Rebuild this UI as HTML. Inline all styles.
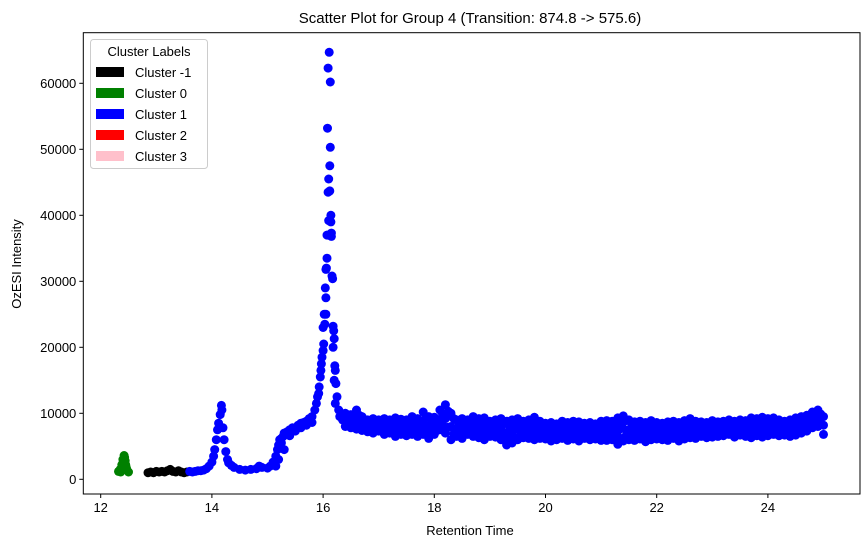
<!DOCTYPE html>
<html><head><meta charset="utf-8"><style>
body{margin:0;background:#fff;}
svg{display:block;font-family:"Liberation Sans","DejaVu Sans",sans-serif;}
</style></head><body>
<svg id="chart" width="868" height="547" viewBox="0 0 868 547">
<rect x="0" y="0" width="868" height="547" fill="#fff"/>
<text x="470" y="23" font-size="15" text-anchor="middle">Scatter Plot for Group 4 (Transition: 874.8 -&gt; 575.6)</text>
<g id="marks"></g>
<g id="axes"></g>
<text x="470" y="535" font-size="13" text-anchor="middle">Retention Time</text>
<text x="21" y="264" font-size="13" text-anchor="middle" transform="rotate(-90 21 264)">OzESI Intensity</text>
<g>
<rect x="90.5" y="39.5" width="117" height="129" rx="3" fill="#fff" fill-opacity="0.8" stroke="#ccc"/>
<text x="149" y="56" font-size="13" text-anchor="middle">Cluster Labels</text>
<g id="legend-entries"></g>
</g>
</svg>
<script>
const xTicks=[12,14,16,18,20,22,24];
const yTicks=[0,10000,20000,30000,40000,50000,60000];
const legendLabels=["Cluster -1","Cluster 0","Cluster 1","Cluster 2","Cluster 3"];
const legendColors=["#000000","#008000","#0000ff","#ff0000","#ffc0cb"];
// cluster 0 (green)
const c0T=[12.32,12.35,12.38,12.4,12.42,12.43,12.44,12.45,12.47,12.5,12.36,12.41,12.46];
const c0V=[1200,1500,2200,3000,3600,3300,2800,2200,1500,1100,1100,2600,1800];
// cluster -1 (black)
const cmT=[12.85,12.9,12.95,13.0,13.05,13.1,13.15,13.2,13.25,13.3,13.35,13.4,13.45,13.5,13.55];
const cmV=[1000,1100,1000,1200,1100,1200,1100,1300,1500,1200,1100,1300,1100,1000,1100];
// cluster 1 (blue) rising part and peaks
const c1T=[13.6,13.65,13.7,13.75,13.8,13.85,13.9,13.95,14.0,14.03,14.05,14.08,14.1,14.12,14.15,14.17,14.18,14.2,14.22,14.25,14.28,14.3,14.35,14.4,14.5,14.6,14.7,14.8,14.85,14.9,15.0,15.05,15.1,15.15,15.18,15.2,15.22,15.25,15.28,15.3,15.35,15.4,15.45,15.5,15.55,15.6,15.65,15.7,15.75,15.8,15.85,15.88,15.9,15.93,15.95,15.97,16.0,16.01,16.03,16.05,16.06,16.07,16.08,16.09,16.1,16.11,16.12,16.13,16.14,16.15,16.16,16.17,16.18,16.19,16.2,16.21,16.22,16.23,16.25,16.28,16.3,16.35,15.2,15.3,15.25,15.15,16.0,16.05,16.1,
16.09,16.13,16.08,16.12,16.07,16.14,16.05,16.04,16.15,16.02,16.18,15.98,15.96,15.92,16.2,16.22,15.6,15.7,15.8,15.5,15.4];
const c1V=[1200,1100,1200,1300,1300,1400,1600,2000,2600,3500,4500,6000,7500,8500,9800,11200,10500,7800,6000,4200,3000,2500,2100,1800,1500,1400,1500,1600,2000,1800,1700,2000,2600,3500,4500,5200,6000,6200,6500,7000,7200,7500,7800,7800,8200,8500,8600,8800,9200,9500,10500,11500,12500,14000,15500,17500,19500,20500,23500,27500,32000,33500,37000,43500,45500,64700,47500,50300,40000,37300,30800,30400,23200,22500,21300,17200,16500,14500,12500,10500,9500,9000,3000,4500,5500,2000,23000,25000,39200,
62300,60200,53200,43700,37000,39000,31800,29000,36800,25000,20000,18500,16500,13000,15000,11500,7800,8200,8600,7300,6600];
// flat region 16.4 .. 25.0, step 0.1
const flatStart=16.4;
const flatHi=[10000,9800,10500,9500,9000,9200,9000,
9200,9000,9300,9100,9000,9500,9200,10200,9500,9400,
10500,11300,10000,9000,9200,9000,9500,9200,9300,8800,
9000,9200,8800,9000,9200,8800,9000,9400,8800,8500,
8600,8400,8800,8600,8800,8700,8500,8600,8400,8800,
8900,8800,9300,9600,9000,8700,8800,8600,8900,8600,
8500,8700,8800,8600,8900,9200,8800,8700,8600,8900,
8700,8800,9000,8800,9000,8900,9300,9200,9400,9200,
9300,9000,8800,9000,9300,9500,9700,10200,10500,9500];
const flatMid=[9000,8800,9000,8400,8100,8100,8100,
8000,8000,7900,8000,7800,8100,7800,8500,7900,8100,
9000,9200,8000,7700,7700,7900,8000,7700,7600,7600,
7700,7600,7000,7200,7600,7500,7600,7700,7500,7300,
7200,7200,7500,7200,7400,7200,7300,7300,7200,7300,
7400,7400,7300,7700,7500,7300,7400,7100,7400,7300,
7200,7300,7500,7200,7500,7700,7500,7600,7400,7600,
7600,7700,7900,7600,7800,7700,7800,7900,7900,7900,
8000,7800,7700,7700,8000,8200,8500,9000,9200,8200];
const flatLo=[8000,7800,7600,7400,7200,7000,7300,
6800,7000,6500,6800,6600,6800,6500,6800,6200,6800,
7500,7000,6000,6500,6200,6800,6500,6300,6000,6500,
6400,6000,5200,5500,6000,6300,6200,6000,6200,6100,
5800,6000,6200,5900,6100,5800,6200,6000,6100,5900,
5900,6000,5300,5800,6000,5900,6100,5700,6000,6100,
6000,5900,6200,5800,6100,6300,6200,6500,6300,6400,
6500,6600,6800,6400,6700,6500,6300,6600,6400,6600,
6800,6600,6700,6500,6700,7000,7300,7800,8000,6800];
// half-step samples 16.45 .. 24.95
const halfStart=16.45;
const halfUpper=[9500,9300,9700,9000,8600,8700,8600,
8600,8500,8700,8600,8400,8900,8600,9400,8800,8800,
9800,10300,9200,8400,8500,8500,8800,8500,8600,8200,
8400,8500,8000,8200,8500,8100,8400,8700,8200,7900,
8000,7800,8200,7900,8200,8000,7900,8000,7800,8100,
8200,8200,8500,8900,8400,8100,8200,8000,8300,8000,
7900,8100,8200,8000,8300,8600,8200,8200,8000,8300,
8200,8300,8500,8200,8500,8400,8700,8600,8800,8600,
8700,8500,8300,8400,8700,8900,9200,9700,9900];
const halfLower=[8500,8300,8200,7900,7600,7500,7700,
7300,7400,7100,7300,7100,7400,7100,7600,6900,7400,
8200,7900,6900,7000,6900,7300,7100,6900,6700,7000,
7000,6700,6000,6300,6700,6900,6800,6700,6800,6600,
6400,6500,6800,6500,6700,6400,6700,6600,6600,6500,
6600,6600,6200,6600,6700,6500,6700,6300,6600,6600,
6500,6500,6800,6400,6700,6900,6800,7000,6800,6900,
7000,7100,7300,6900,7200,7000,6900,7200,7000,7100,
7300,7100,7200,7000,7200,7500,7800,8300,8500];

const L=83.3,R=860,T=32.7,B=494;
function xs(t){return 100.7+(t-12)*55.6;}
function ys(v){return 479.3-v*0.0066;}
const NS="http://www.w3.org/2000/svg";
const marks=document.getElementById('marks');
function dot(t,v,c,name){
  const e=document.createElementNS(NS,'circle');
  e.setAttribute('cx',xs(t).toFixed(1));e.setAttribute('cy',ys(v).toFixed(1));
  e.setAttribute('r',4.5);e.setAttribute('fill',c);
  
  
  marks.appendChild(e);
}
c0T.forEach((t,i)=>dot(t,c0V[i],'#008000','cluster-0-point'));
cmT.forEach((t,i)=>dot(t,cmV[i],'#000000','cluster-neg1-point'));
c1T.forEach((t,i)=>dot(t,c1V[i],'#0000ff','cluster-1-point'));
[flatHi,flatMid,flatLo].forEach(arr=>arr.forEach((v,i)=>dot(flatStart+i*0.1,v,'#0000ff','cluster-1-point')));
[halfUpper,halfLower].forEach(arr=>arr.forEach((v,i)=>dot(halfStart+i*0.1,v,'#0000ff','cluster-1-point')));

const ax=document.getElementById('axes');
function add(tag,attrs,name,txt){
  const e=document.createElementNS(NS,tag);
  for(const k in attrs)e.setAttribute(k,attrs[k]);
  
  
  if(txt!==undefined)e.textContent=txt;
  ax.appendChild(e);return e;
}
add('rect',{x:L,y:T,width:R-L,height:B-T,fill:'none',stroke:'#000','stroke-width':1},'plot-frame');
xTicks.forEach(t=>{
  const x=xs(t);
  add('line',{x1:x,x2:x,y1:B,y2:B+4,stroke:'#000'},'x-tick');
  add('text',{x:x,y:B+18,'font-size':13,'text-anchor':'middle'},'x-tick-label',String(t));
});
yTicks.forEach(v=>{
  const y=ys(v);
  add('line',{x1:L-4,x2:L,y1:y,y2:y,stroke:'#000'},'y-tick');
  add('text',{x:L-7,y:y+4.5,'font-size':13,'text-anchor':'end'},'y-tick-label',String(v));
});
const lg=document.getElementById('legend-entries');
legendLabels.forEach((lab,i)=>{
  const y=67+i*21;
  const r=document.createElementNS(NS,'rect');
  r.setAttribute('x',96);r.setAttribute('y',y);r.setAttribute('width',28);r.setAttribute('height',10);r.setAttribute('fill',legendColors[i]);
  
  
  lg.appendChild(r);
  const tx=document.createElementNS(NS,'text');
  tx.setAttribute('x',135);tx.setAttribute('y',y+10);tx.setAttribute('font-size',13);tx.textContent=lab;
  
  
  lg.appendChild(tx);
});
</script>
</body></html>
